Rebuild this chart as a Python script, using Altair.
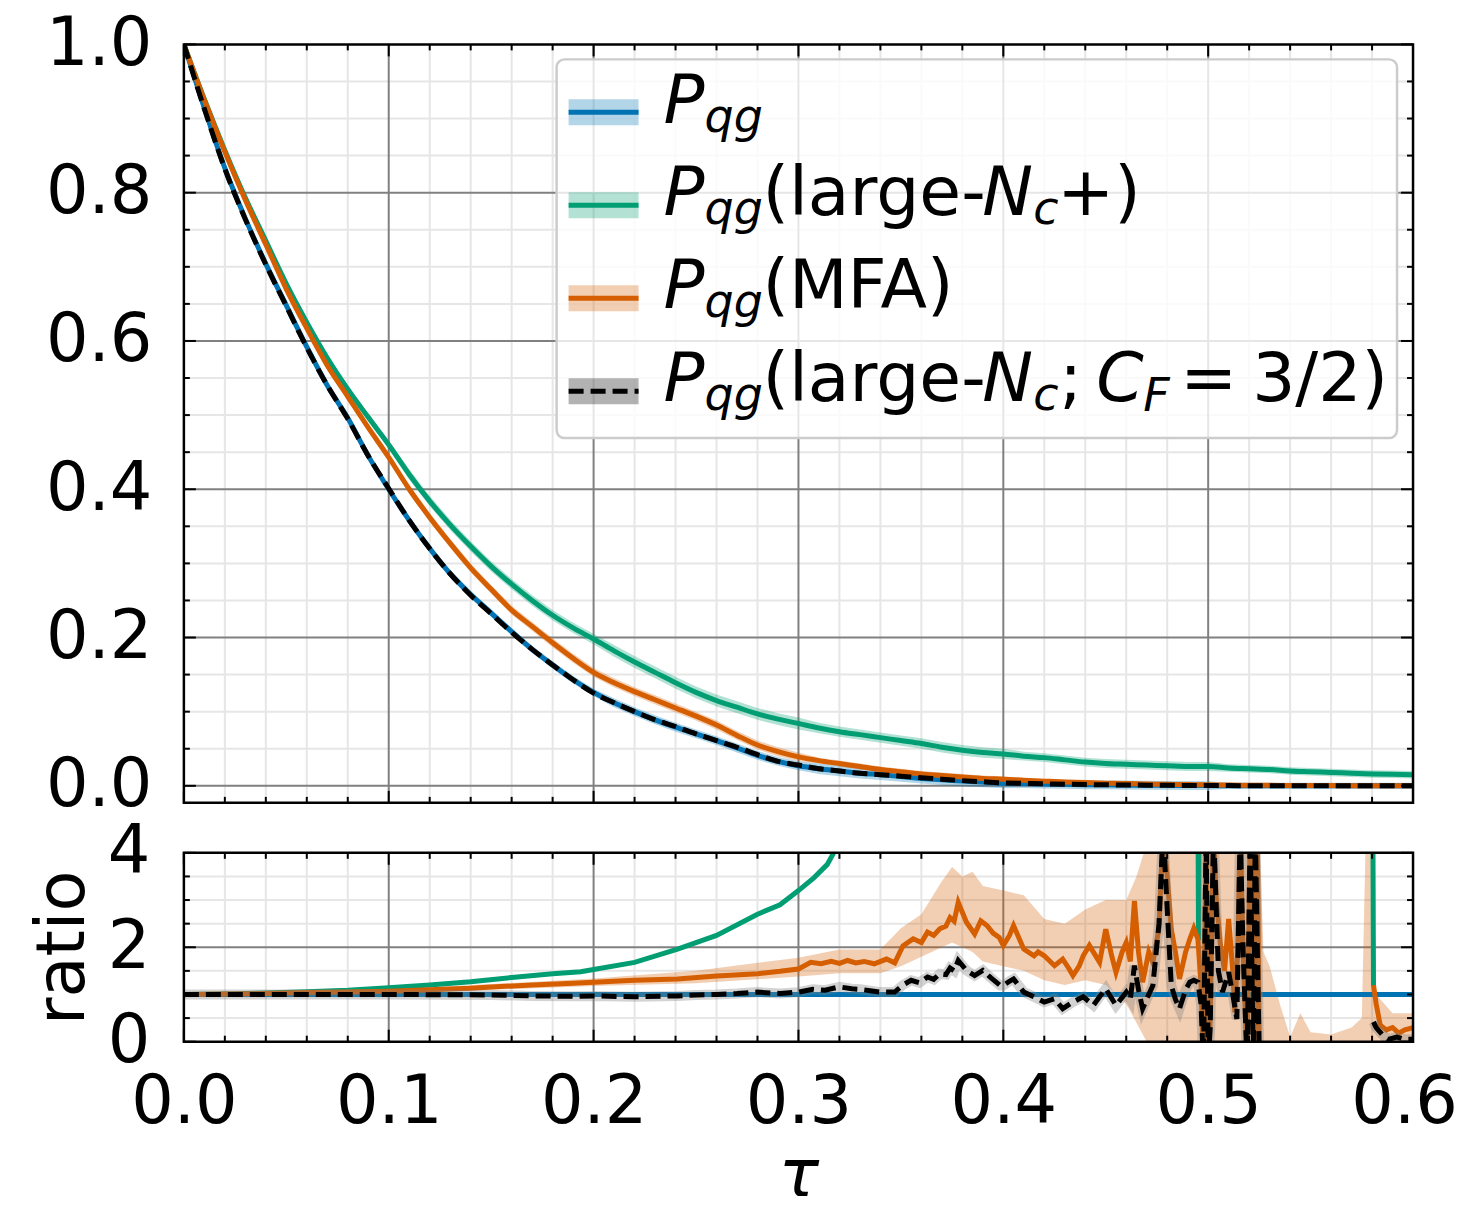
import altair as alt
import pandas as pd

# ---------------- data ----------------
tau = [round(0.01 * i, 2) for i in range(61)]

p_qg = [1.0, 0.914, 0.833, 0.765, 0.704, 0.648, 0.592, 0.54, 0.496, 0.445, 0.40,
        0.358, 0.32, 0.286, 0.258, 0.233, 0.208, 0.184, 0.163, 0.143, 0.126,
        0.112, 0.1, 0.089, 0.079, 0.07, 0.061, 0.051, 0.041, 0.033, 0.027,
        0.023, 0.02, 0.017, 0.015, 0.0125, 0.010, 0.008, 0.0065, 0.005, 0.0036,
        0.003, 0.0025, 0.002, 0.0015, 0.0013, 0.001, 0.0008, 0.0006, 0.0004, 0.0003,
        0.0002, 0.0002, 0.0001, 0.0001, 0.0001, 0.0, 0.0, 0.0, 0.0, 0.0]

p_nc_plus = [1.0, 0.926, 0.857, 0.793, 0.735, 0.677, 0.625, 0.577, 0.535, 0.497, 0.46,
             0.42, 0.384, 0.352, 0.323, 0.296, 0.272, 0.25, 0.23, 0.213, 0.198,
             0.182, 0.167, 0.153, 0.139, 0.126, 0.115, 0.106, 0.097, 0.09, 0.084,
             0.078, 0.073, 0.069, 0.065, 0.061, 0.057, 0.052, 0.048, 0.045, 0.043,
             0.04, 0.038, 0.035, 0.032, 0.030, 0.029, 0.028, 0.027, 0.026, 0.026,
             0.024, 0.023, 0.022, 0.02, 0.019, 0.018, 0.017, 0.016, 0.0155, 0.015]

p_mfa = [1.0, 0.925, 0.855, 0.79, 0.73, 0.67, 0.617, 0.567, 0.525, 0.483, 0.443,
         0.40, 0.362, 0.327, 0.294, 0.265, 0.237, 0.215, 0.193, 0.172, 0.153,
         0.139, 0.127, 0.116, 0.105, 0.094, 0.082, 0.068, 0.055, 0.046, 0.039,
         0.034, 0.030, 0.026, 0.022, 0.019, 0.016, 0.014, 0.012, 0.010, 0.009,
         0.0075, 0.0063, 0.0052, 0.0043, 0.0036, 0.003, 0.0025, 0.002, 0.0016, 0.0013,
         0.001, 0.0008, 0.0006, 0.0005, 0.0004, 0.0003, 0.0002, 0.0002, 0.0001, 0.0001]

p_nc_cf = [1.0, 0.913, 0.832, 0.764, 0.703, 0.647, 0.591, 0.54, 0.495, 0.445, 0.401,
           0.358, 0.32, 0.286, 0.257, 0.232, 0.207, 0.184, 0.163, 0.143, 0.125,
           0.112, 0.1, 0.089, 0.08, 0.07, 0.061, 0.052, 0.042, 0.033, 0.028,
           0.023, 0.02, 0.017, 0.015, 0.013, 0.011, 0.009, 0.007, 0.0055, 0.004,
           0.0033, 0.0027, 0.0022, 0.0017, 0.0014, 0.0011, 0.0009, 0.0007, 0.0005, 0.0004,
           0.0003, 0.0002, 0.0002, 0.0001, 0.0001, 0.0001, 0.0, 0.0, 0.0, 0.0]

# half widths of the uncertainty bands (top panel)
band_qg = [0.0] + [0.003] * 4 + [0.004] * 6 + [0.005] * 10 + [0.006] * 10 + [0.007] * 10 + [0.006] * 10 + [0.004] * 10
band_nc_plus = [0.0] + [0.003] * 4 + [0.005] * 6 + [0.007] * 10 + [0.008] * 10 + [0.007] * 10 + [0.006] * 10 + [0.005] * 10
band_mfa = [0.0] + [0.003] * 4 + [0.004] * 6 + [0.006] * 10 + [0.006] * 10 + [0.004] * 10 + [0.003] * 10 + [0.002] * 10
band_nc_cf = [0.0] + [0.002] * 60

# ratio panel (None = gap in the curve)
ratio_qg = [(0.0, 1.0), (0.6, 1.0)]

ratio_nc_plus = [(0.0, 1.0), (0.02, 1.01), (0.04, 1.03), (0.06, 1.06), (0.08, 1.09), (0.1, 1.14),
                 (0.12, 1.2), (0.14, 1.27), (0.16, 1.36), (0.18, 1.44), (0.1937, 1.48), (0.2, 1.53),
                 (0.22, 1.68), (0.241, 1.96), (0.26, 2.25), (0.28, 2.7), (0.291, 2.9), (0.3, 3.2),
                 (0.3075, 3.47), (0.314, 3.75), (0.3172, 4.0), (0.33, 5.0), (0.36, 7.0), (0.4, 9.0),
                 (0.45, 12.0), (0.494, 15.0), (0.4953, 2.15), (0.4965, 15.0), (0.515, 15.0),
                 (0.516, 2.9), (0.517, 15.0), (0.5795, 15.0), (0.5807, 1.18)]

ratio_mfa = [(0.0, 1.0), (0.02, 1.01), (0.04, 1.02), (0.06, 1.04), (0.08, 1.05), (0.1, 1.07),
             (0.12, 1.1), (0.14, 1.13), (0.15, 1.16), (0.17, 1.2), (0.19, 1.24), (0.2, 1.26),
             (0.22, 1.30), (0.241, 1.33), (0.26, 1.39), (0.28, 1.44), (0.291, 1.49), (0.3, 1.54),
             (0.306, 1.68), (0.311, 1.65), (0.316, 1.70), (0.32, 1.66), (0.324, 1.72), (0.328, 1.67),
             (0.332, 1.70), (0.337, 1.65), (0.343, 1.75), (0.347, 1.67), (0.351, 2.03), (0.356, 2.18),
             (0.36, 2.1), (0.363, 2.32), (0.366, 2.25), (0.369, 2.39), (0.372, 2.45), (0.374, 2.63),
             (0.376, 2.55), (0.378, 2.95), (0.382, 2.53), (0.386, 2.28), (0.389, 2.56), (0.392, 2.46),
             (0.395, 2.3), (0.398, 2.21), (0.4, 2.04), (0.403, 2.25), (0.405, 2.46), (0.41, 1.96),
             (0.415, 1.82), (0.417, 1.9), (0.42, 1.82), (0.425, 1.61), (0.429, 1.75), (0.432, 1.55),
             (0.434, 1.40), (0.437, 1.6), (0.439, 1.82), (0.442, 2.04), (0.447, 1.68), (0.45, 2.38),
             (0.453, 1.8), (0.455, 1.47), (0.458, 1.9), (0.46, 2.1), (0.462, 1.7), (0.464, 2.98),
             (0.466, 1.9), (0.468, 1.26), (0.471, 1.9), (0.473, 1.68), (0.476, 2.4), (0.478, 4.5),
             (0.48, 3.5), (0.482, 2.38), (0.484, 1.9), (0.486, 1.33), (0.489, 1.9), (0.491, 2.17),
             (0.493, 2.4), (0.495, 2.17), (0.4965, 1.2), (0.4977, -0.5), (0.499, 4.5), (0.5, -0.5),
             (0.501, 0.5), (0.5026, 4.5), (0.504, 3.0), (0.506, 2.04), (0.508, 1.5), (0.51, 2.6),
             (0.512, 1.5), (0.513, 0.62), (0.5145, 2.0), (0.5156, 4.5), (0.517, 2.0), (0.519, -0.5),
             (0.5205, 4.5), (0.522, 4.5), (0.523, -0.5), (0.524, 4.5), (0.525, -0.5), (0.55, None),
             (0.5807, 1.2), (0.582, 0.8), (0.584, 0.35), (0.587, 0.25), (0.59, 0.3), (0.593, 0.18),
             (0.596, 0.25), (0.6, 0.3)]

ratio_mfa_band = [(0.0, 1.0, 1.0), (0.05, 1.0, 1.04), (0.1, 1.03, 1.11), (0.15, 1.1, 1.22),
                  (0.2, 1.18, 1.34), (0.25, 1.24, 1.5), (0.3, 1.38, 1.78), (0.32, 1.45, 1.95),
                  (0.34, 1.45, 1.95), (0.35, 1.6, 2.4), (0.36, 1.8, 2.7), (0.37, 2.0, 3.4),
                  (0.375, 2.1, 3.7), (0.38, 2.0, 3.5), (0.385, 1.9, 3.6), (0.39, 1.7, 3.3),
                  (0.4, 1.6, 3.2), (0.41, 1.5, 3.1), (0.42, 1.3, 2.6), (0.43, 1.2, 2.5),
                  (0.44, 1.3, 2.8), (0.45, 1.2, 3.0), (0.46, 0.8, 3.0), (0.465, 0.4, 3.5),
                  (0.47, 0.0, 4.2), (0.48, 0.0, 4.5), (0.5, 0.0, 4.5), (0.525, 0.0, 4.5),
                  (0.527, 0.0, 1.9), (0.53, 0.0, 1.6), (0.535, 0.0, 0.8), (0.54, 0.0, 0.1),
                  (0.545, 0.0, 0.6), (0.55, 0.0, 0.2), (0.56, 0.0, 0.15), (0.57, 0.0, 0.3),
                  (0.575, 0.0, 0.5), (0.577, 0.0, 4.5), (0.58, 0.0, 4.5), (0.582, 0.0, 1.0),
                  (0.59, 0.0, 0.6), (0.6, 0.0, 0.6)]

ratio_nc_cf = [(0.0, 1.0), (0.05, 1.0), (0.1, 1.0), (0.15, 0.99), (0.17, 0.97), (0.19, 0.96),
               (0.2, 0.97), (0.22, 0.95), (0.241, 0.97), (0.25, 0.99), (0.26, 1.0), (0.27, 1.02),
               (0.28, 1.05), (0.291, 1.02), (0.3, 1.05), (0.307, 1.11), (0.313, 1.09), (0.32, 1.16),
               (0.326, 1.12), (0.33, 1.11), (0.335, 1.08), (0.34, 1.05), (0.347, 1.05), (0.351, 1.2),
               (0.355, 1.30), (0.359, 1.25), (0.363, 1.37), (0.366, 1.32), (0.369, 1.44), (0.372, 1.42),
               (0.374, 1.56), (0.376, 1.5), (0.378, 1.72), (0.382, 1.51), (0.386, 1.40), (0.39, 1.51),
               (0.394, 1.35), (0.3985, 1.19), (0.4, 1.19), (0.403, 1.28), (0.405, 1.33), (0.41, 1.05),
               (0.415, 0.95), (0.42, 0.84), (0.425, 0.91), (0.429, 0.70), (0.434, 0.84), (0.439, 0.95),
               (0.444, 0.77), (0.447, 0.95), (0.45, 1.12), (0.455, 0.77), (0.46, 1.05), (0.462, 0.9),
               (0.464, 1.61), (0.466, 1.1), (0.468, 0.70), (0.471, 1.0), (0.473, 1.19), (0.476, 2.5),
               (0.478, 4.5), (0.48, 2.8), (0.482, 1.19), (0.484, 0.9), (0.486, 0.70), (0.489, 1.1),
               (0.491, 1.26), (0.493, 1.3), (0.495, 1.26), (0.4965, 0.8), (0.4977, -0.5), (0.499, 4.5),
               (0.5, -0.5), (0.501, 0.3), (0.5026, 4.5), (0.505, 1.5), (0.507, 1.05), (0.51, 1.47),
               (0.512, 1.0), (0.514, 0.48), (0.5156, 4.5), (0.517, 2.0), (0.519, -0.5), (0.5205, 4.5),
               (0.522, -0.5), (0.523, 4.5), (0.525, -0.5), (0.55, None),
               (0.5807, 0.42), (0.582, 0.3), (0.585, 0.15), (0.588, 0.05), (0.592, 0.1),
               (0.596, 0.05), (0.6, 0.05)]

x_major = [0.0, 0.1, 0.2, 0.3, 0.4, 0.5, 0.6]
x_minor = [0.02, 0.04, 0.06, 0.08, 0.12, 0.14, 0.16, 0.18, 0.22, 0.24, 0.26, 0.28,
           0.32, 0.34, 0.36, 0.38, 0.42, 0.44, 0.46, 0.48, 0.52, 0.54, 0.56, 0.58]
y1_major = [0.0, 0.2, 0.4, 0.6, 0.8, 1.0]
y1_minor = [0.05, 0.1, 0.15, 0.25, 0.3, 0.35, 0.45, 0.5, 0.55, 0.65, 0.7, 0.75, 0.85, 0.9, 0.95]
y2_major = [0, 2, 4]
y2_minor = [0.5, 1.0, 1.5, 2.5, 3.0, 3.5]

# ---------------- style ----------------
C_QG, C_PLUS, C_MFA, C_CF = "#0173b2", "#029e73", "#d55e00", "#000000"
GRID_MAJ, GRID_MIN = "#808080", "#e6e6e6"
FONT = "DejaVu Sans"
FS = 67          # axis text size
LFS, LSUB = 68, 46   # legend text / subscript size
W, H1, H2 = 1230, 759, 189
LW = 5
DASH = [15, 7]

XS = alt.Scale(domain=[0, 0.6], nice=False, zero=False)
YS1 = alt.Scale(domain=[-0.023, 1.0], nice=False, zero=False)
YS2 = alt.Scale(domain=[0, 4], nice=False, zero=False)

AX_X_TOP = alt.Axis(labels=False, ticks=False, domain=False, grid=False, title=None)
AX_X_BOT = alt.Axis(values=x_major, format=".1f", ticks=False, tickSize=0, domain=False, grid=False,
                    title="τ", titleFontStyle="italic", labelFlush=False, labelOverlap=False,
                    labelOffset={"condition": {"test": "datum.value > 0.55", "value": -9}, "value": 0},
                    labelPadding=28, titlePadding=8)
AX_Y_TOP = alt.Axis(values=y1_major, format=".1f", ticks=False, tickSize=0, domain=False, grid=False,
                    title=None, labelFlush=False, labelOverlap=False, labelPadding=32)
AX_Y_BOT = alt.Axis(values=y2_major, format="d", ticks=False, tickSize=0, domain=False, grid=False,
                    title="ratio", labelFlush=False, labelOverlap=False, labelPadding=34,
                    titlePadding=10)

one = pd.DataFrame({"k": [0]})


def vals(v):
    return pd.DataFrame({"v": v})


def vrule(v, color, width, ax):
    return alt.Chart(vals(v)).mark_rule(color=color, strokeWidth=width).encode(
        x=alt.X("v:Q", scale=XS, axis=ax))


def hrule(v, color, width, ys, ay):
    return alt.Chart(vals(v)).mark_rule(color=color, strokeWidth=width).encode(
        y=alt.Y("v:Q", scale=ys, axis=ay))


def xticks(v, length, h, ax):
    top = alt.Chart(vals(v)).mark_rule(color="black", strokeWidth=2).encode(
        x=alt.X("v:Q", scale=XS, axis=ax), y=alt.value(0), y2=alt.value(length))
    bot = alt.Chart(vals(v)).mark_rule(color="black", strokeWidth=2).encode(
        x=alt.X("v:Q", scale=XS, axis=ax), y=alt.value(h - length), y2=alt.value(h))
    return [top, bot]


def yticks(v, length, ys, ay):
    left = alt.Chart(vals(v)).mark_rule(color="black", strokeWidth=2).encode(
        y=alt.Y("v:Q", scale=ys, axis=ay), x=alt.value(0), x2=alt.value(length))
    right = alt.Chart(vals(v)).mark_rule(color="black", strokeWidth=2).encode(
        y=alt.Y("v:Q", scale=ys, axis=ay), x=alt.value(W - length), x2=alt.value(W))
    return [left, right]


def frame(h):
    return alt.Chart(one).mark_rect(fillOpacity=0, stroke="black", strokeWidth=2.5).encode(
        x=alt.value(0), x2=alt.value(W), y=alt.value(0), y2=alt.value(h))


def segs(pairs):
    rows, s = [], 0
    for x, r in pairs:
        if r is None:
            s += 1
            continue
        rows.append({"tau": x, "r": r, "seg": s})
    return pd.DataFrame(rows)


# ---------------- top panel ----------------
series_top = [
    ("qg", p_qg, band_qg, C_QG),
    ("plus", p_nc_plus, band_nc_plus, C_PLUS),
    ("mfa", p_mfa, band_mfa, C_MFA),
    ("cf", p_nc_cf, band_nc_cf, C_CF),
]

top_layers = [
    vrule(x_minor, GRID_MIN, 2, AX_X_TOP),
    hrule(y1_minor, GRID_MIN, 2, YS1, AX_Y_TOP),
    vrule(x_major[1:-1], GRID_MAJ, 2, AX_X_TOP),
    hrule(y1_major[:-1], GRID_MAJ, 2, YS1, AX_Y_TOP),
]

for name, v, b, col in series_top:
    d = pd.DataFrame({"tau": tau, "v": v, "lo": [a - e for a, e in zip(v, b)],
                      "hi": [a + e for a, e in zip(v, b)]})
    band = alt.Chart(d).mark_area(color=col, opacity=0.3, clip=True).encode(
        x=alt.X("tau:Q", scale=XS, axis=AX_X_TOP),
        y=alt.Y("lo:Q", scale=YS1, axis=AX_Y_TOP), y2="hi:Q")
    top_layers.append(band)

for name, v, b, col in series_top:
    d = pd.DataFrame({"tau": tau, "v": v})
    kw = dict(color=col, strokeWidth=LW, clip=True, interpolate="monotone")
    if name == "cf":
        kw["strokeDash"] = DASH
    line = alt.Chart(d).mark_line(**kw).encode(
        x=alt.X("tau:Q", scale=XS, axis=AX_X_TOP),
        y=alt.Y("v:Q", scale=YS1, axis=AX_Y_TOP))
    top_layers.append(line)

top_layers += xticks(x_major, 12, H1, AX_X_TOP) + xticks(x_minor, 6, H1, AX_X_TOP)
top_layers += yticks(y1_major, 12, YS1, AX_Y_TOP) + yticks(y1_minor, 6, YS1, AX_Y_TOP)

# ----- legend (drawn by hand, offsets relative to the top panel) -----
LX0, LX1, LY0, LY1 = 373, 1214, 15, 394
top_layers.append(
    alt.Chart(one).mark_rect(fill="white", fillOpacity=0.8, stroke="#cccccc", strokeWidth=2.5,
                             cornerRadius=8).encode(
        x=alt.value(LX0), x2=alt.value(LX1), y=alt.value(LY0), y2=alt.value(LY1)))

row_center = [68, 161, 254, 347]
row_base = [79, 171, 264, 357]
patch_fill = [C_QG, C_PLUS, C_MFA, C_CF]
for i, col in enumerate(patch_fill):
    yc = row_center[i]
    top_layers.append(alt.Chart(one).mark_rect(color=col, opacity=0.3).encode(
        x=alt.value(385), x2=alt.value(455), y=alt.value(yc - 13), y2=alt.value(yc + 13)))
    kw = dict(color=col, strokeWidth=LW)
    if i == 3:
        kw["strokeDash"] = DASH
    top_layers.append(alt.Chart(one).mark_rule(**kw).encode(
        x=alt.value(385), x2=alt.value(455), y=alt.value(yc)))


def txt(s, x, y, size=LFS, italic=False):
    return alt.Chart(one).mark_text(text=s, font=FONT, fontSize=size,
                                    fontStyle="italic" if italic else "normal",
                                    align="left", baseline="alphabetic", color="black").encode(
        x=alt.value(x), y=alt.value(y))


legend_rows = [
    [],
    [("(large-", 579, 0, LFS, False), ("N", 799, 0, LFS, True), ("c", 850, 9, LSUB, True),
     ("+)", 874, 0, LFS, False)],
    [("(MFA)", 579, 0, LFS, False)],
    [("(large-", 579, 0, LFS, False), ("N", 799, 0, LFS, True), ("c", 850, 9, LSUB, True),
     (";", 876, 0, LFS, False), ("C", 913, 0, LFS, True), ("F", 960, 10, LSUB, True),
     ("=", 997, 0, LFS, False), ("3/2)", 1069, 0, LFS, False)],
]
for i, extra in enumerate(legend_rows):
    b = row_base[i]
    top_layers.append(txt("P", 480, b, LFS, True))
    top_layers.append(txt("qg", 521, b + 9, LSUB, True))
    for s, x, dy, size, it in extra:
        top_layers.append(txt(s, x, b + dy, size, it))

top_layers.append(frame(H1))
top = alt.layer(*top_layers).properties(width=W, height=H1)

# ---------------- ratio panel ----------------
bot_layers = [
    vrule(x_minor, GRID_MIN, 2, AX_X_BOT),
    hrule(y2_minor, GRID_MIN, 2, YS2, AX_Y_BOT),
    vrule(x_major[1:-1], GRID_MAJ, 2, AX_X_BOT),
    hrule([2], GRID_MAJ, 2, YS2, AX_Y_BOT),
]

band_df = pd.DataFrame(ratio_mfa_band, columns=["tau", "lo", "hi"])
bot_layers.append(alt.Chart(band_df).mark_area(color=C_MFA, opacity=0.3, clip=True).encode(
    x=alt.X("tau:Q", scale=XS, axis=AX_X_BOT),
    y=alt.Y("lo:Q", scale=YS2, axis=AX_Y_BOT), y2="hi:Q"))


def rline(pairs, col, dash=False, width=LW, opacity=1.0):
    kw = dict(color=col, strokeWidth=width, clip=True, opacity=opacity)
    if dash:
        kw["strokeDash"] = DASH
    return alt.Chart(segs(pairs)).mark_line(**kw).encode(
        x=alt.X("tau:Q", scale=XS, axis=AX_X_BOT),
        y=alt.Y("r:Q", scale=YS2, axis=AX_Y_BOT),
        detail="seg:N")


bot_layers += [
    rline(ratio_qg, C_QG),
    rline(ratio_nc_plus, C_PLUS),
    rline(ratio_mfa, C_MFA),
    rline(ratio_nc_cf, "#808080", width=10, opacity=0.35),
    rline(ratio_nc_cf, C_CF, dash=True),
]
bot_layers += xticks(x_major, 12, H2, AX_X_BOT) + xticks(x_minor, 6, H2, AX_X_BOT)
bot_layers += yticks(y2_major, 12, YS2, AX_Y_BOT) + yticks(y2_minor, 6, YS2, AX_Y_BOT)
bot_layers.append(frame(H2))
bot = alt.layer(*bot_layers).properties(width=W, height=H2)

chart = alt.vconcat(top, bot, spacing=50, bounds="flush").properties(
    padding={"left": 21, "top": 2, "right": 0, "bottom": -14}
).configure_axis(
    labelFont=FONT, labelFontSize=FS, labelColor="black",
    titleFont=FONT, titleFontSize=FS, titleColor="black", titleFontWeight="normal"
).configure_view(strokeWidth=0)

chart.save("out.html", embed_options={"renderer": "svg", "actions": False})
